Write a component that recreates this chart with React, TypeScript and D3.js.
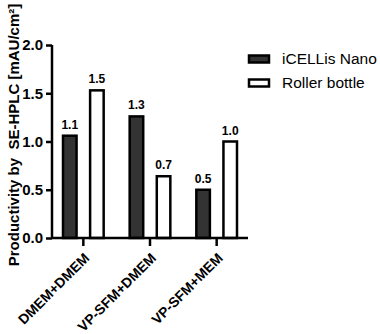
import React, { useEffect, useRef } from 'react';
import * as d3 from 'd3';

// chart data
const categories = ['DMEM+DMEM', 'VP-SFM+DMEM', 'VP-SFM+MEM'];
const seriesNames = ['iCELLis Nano', 'Roller bottle'];
const icellisValues = [1.06, 1.26, 0.5];
const rollerValues = [1.53, 0.64, 1.0];
const icellisLabels = ['1.1', '1.3', '0.5'];
const rollerLabels = ['1.5', '0.7', '1.0'];
const yTicks = [0, 0.5, 1.0, 1.5, 2.0];

const App = () => {
  const svgRef = useRef<SVGSVGElement>(null);

  useEffect(() => {
    const width = 380;
    const height = 334;
    const svg = d3.select(svgRef.current);
    svg.selectAll('*').remove();

    const font = 'Liberation Sans';
    const colors = ['#333333', '#ffffff'];

    // scales
    const x = d3.scaleBand<string>()
      .domain(categories)
      .range([50, 250])
      .padding(0);
    const xSub = d3.scaleBand<string>()
      .domain(seriesNames)
      .range([-x.bandwidth() / 2 + 13, x.bandwidth() / 2 - 13])
      .paddingInner(0.5);
    const y = d3.scaleLinear().domain([0, 2]).range([238, 45]);

    const g = svg.append('g').attr('font-family', font);

    // bars
    const rows = categories.map((c, i) => ({
      cat: c,
      vals: [
        { s: seriesNames[0], v: icellisValues[i], label: icellisLabels[i], color: colors[0] },
        { s: seriesNames[1], v: rollerValues[i], label: rollerLabels[i], color: colors[1] },
      ],
    }));

    const groups = g.selectAll('g.grp')
      .data(rows)
      .enter().append('g')
      .attr('class', 'grp')
      .attr('transform', d => `translate(${(x(d.cat) as number) + x.bandwidth() / 2},0)`);

    groups.selectAll('rect')
      .data(d => d.vals)
      .enter().append('rect')
      .attr('x', d => xSub(d.s) as number)
      .attr('width', xSub.bandwidth())
      .attr('y', d => y(d.v))
      .attr('height', d => y(0) - y(d.v))
      .attr('fill', d => d.color)
      .attr('stroke', '#000')
      .attr('stroke-width', 2.5);

    groups.selectAll('text.val')
      .data(d => d.vals)
      .enter().append('text')
      .attr('class', 'val')
      .attr('x', d => (xSub(d.s) as number) + xSub.bandwidth() / 2)
      .attr('y', d => y(d.v) - 7)
      .attr('text-anchor', 'middle')
      .attr('font-size', 12)
      .attr('font-weight', 'bold')
      .text(d => d.label);

    // y axis
    const yAxis = g.append('g')
      .attr('transform', 'translate(52,0)')
      .call(d3.axisLeft(y).tickValues(yTicks).tickFormat(d3.format('.1f')).tickSize(6).tickPadding(3));
    yAxis.select('.domain').attr('stroke-width', 2.5).attr('d', `M0,${y(2)}V${y(0)}`);
    yAxis.selectAll('.tick line').attr('stroke-width', 2.5);
    yAxis.selectAll('.tick text')
      .attr('font-size', 15)
      .attr('font-weight', 'bold')
      .attr('font-family', font)
      .attr('fill', '#000');

    // x axis
    const xAxis = g.append('g')
      .attr('transform', `translate(0,${y(0)})`)
      .call(d3.axisBottom(x).tickSize(8).tickSizeOuter(0));
    xAxis.select('.domain').attr('stroke-width', 2.5).attr('d', 'M52,0H248');
    xAxis.selectAll('.tick line').attr('stroke-width', 2.5);
    xAxis.selectAll('.tick text')
      .attr('font-size', 14)
      .attr('font-weight', 'bold')
      .attr('font-family', font)
      .attr('fill', '#000')
      .attr('text-anchor', 'end')
      .attr('x', 7)
      .attr('y', 21)
      .attr('dy', 0)
      .attr('transform', 'rotate(-45, 7, 21)');

    // y label
    g.append('text')
      .attr('transform', `translate(19,${135}) rotate(-90)`)
      .attr('text-anchor', 'middle')
      .attr('font-size', 15)
      .attr('font-weight', 'bold')
      .style('white-space', 'pre')
      .text('Productivity by  SE-HPLC [mAU/cm²]');

    // legend
    const legend = g.selectAll('g.leg')
      .data(seriesNames)
      .enter().append('g')
      .attr('class', 'leg')
      .attr('transform', (d, i) => `translate(249,${59 + i * 24})`);
    legend.append('rect')
      .attr('x', 0)
      .attr('y', -3.5)
      .attr('width', 20)
      .attr('height', 7)
      .attr('fill', (d, i) => colors[i])
      .attr('stroke', '#000')
      .attr('stroke-width', 2.5);
    legend.append('text')
      .attr('x', 33)
      .attr('y', 0)
      .attr('dy', '0.35em')
      .attr('font-size', 15.5)
      .text(d => d);

    svg.attr('width', width).attr('height', height);
  }, []);

  return (
    <svg
      ref={svgRef}
      width={380}
      height={334}
      style={{ position: 'absolute', left: 0, top: 0, background: '#fff' }}
    />
  );
};

export default App;
